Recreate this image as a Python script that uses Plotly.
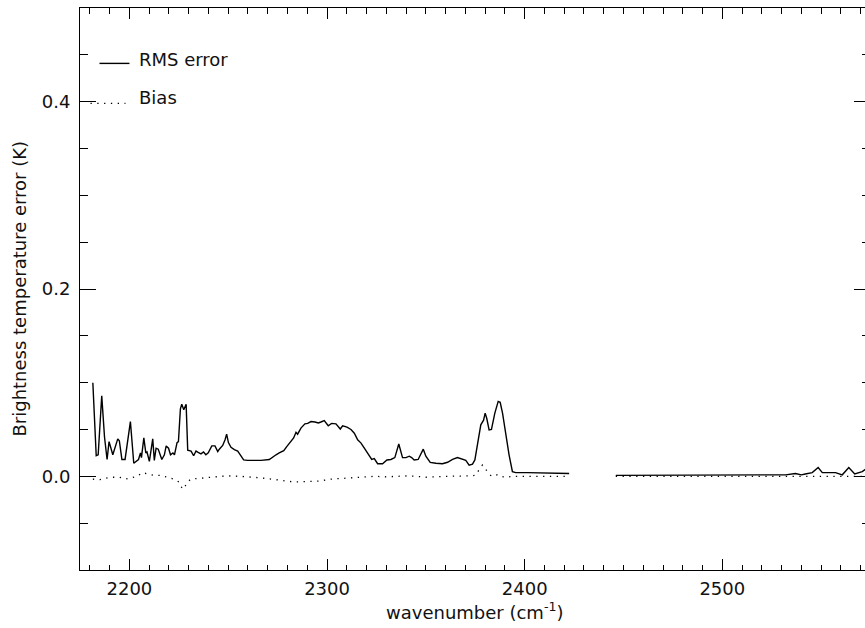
import plotly.graph_objects as go

# ---------------- data ----------------
# RMS error, first band segment (wavenumber cm^-1, K)
rms_wn_a = [2181.5, 2183.2, 2184.2, 2186.0, 2187.4, 2188.7, 2189.7, 2190.7, 2191.6, 2194.1,
            2194.9, 2196.2, 2197.8, 2200.5, 2202.2, 2204.6, 2205.6, 2206.1, 2207.3, 2208.3,
            2208.9, 2210.1, 2211.8, 2212.6, 2213.5, 2214.6, 2216.4, 2217.7, 2218.6, 2219.8,
            2220.8, 2222.0, 2222.8, 2224.1, 2224.8, 2225.8, 2226.5, 2227.5, 2228.7, 2229.5,
            2231.2, 2232.5, 2233.7, 2234.8, 2236.2, 2237.5, 2238.7, 2239.9, 2241.7, 2243.3,
            2244.7, 2245.5, 2247.2, 2248.4, 2249.2, 2250.1, 2251.4, 2253.1, 2254.8, 2256.1,
            2257.8, 2259.8, 2266.6, 2270.8, 2272.5, 2274.2, 2275.8, 2278.1, 2279.7, 2281.4,
            2283.1, 2284.3, 2285.1, 2286.8, 2288.8, 2290.2, 2291.9, 2293.9, 2295.6, 2296.9,
            2298.6, 2300.6, 2302.3, 2304.5, 2306.7, 2307.9, 2310.1, 2312.1, 2313.8, 2315.5,
            2317.2, 2319.2, 2321.4, 2322.6, 2323.9, 2325.6, 2328.1, 2330.3, 2332.3, 2334.3,
            2336.3, 2338.2, 2339.9, 2341.6, 2342.8, 2344.1, 2346.1, 2347.2, 2348.7, 2350.0,
            2352.2, 2355.1, 2358.4, 2361.0, 2363.5, 2366.0, 2367.7, 2370.2, 2371.9, 2373.6,
            2374.8, 2376.4, 2377.8, 2379.2, 2380.0, 2380.8, 2382.0, 2383.2, 2384.9, 2386.6,
            2387.6, 2388.8, 2390.4, 2392.1, 2393.8, 2395.5, 2401.4, 2411.5, 2422.5]
rms_val_a = [0.100, 0.022, 0.023, 0.086, 0.042, 0.018, 0.037, 0.028, 0.023, 0.040,
             0.038, 0.018, 0.018, 0.0585, 0.014, 0.018, 0.025, 0.020, 0.041, 0.025,
             0.026, 0.016, 0.040, 0.017, 0.030, 0.029, 0.018, 0.023, 0.0325, 0.030,
             0.023, 0.025, 0.023, 0.036, 0.037, 0.072, 0.077, 0.071, 0.077, 0.028,
             0.027, 0.022, 0.027, 0.0255, 0.024, 0.026, 0.023, 0.025, 0.0325, 0.0325,
             0.0265, 0.029, 0.033, 0.039, 0.045, 0.036, 0.031, 0.0285, 0.027, 0.023,
             0.0175, 0.017, 0.017, 0.018, 0.021, 0.023, 0.025, 0.0275, 0.032, 0.036,
             0.041, 0.047, 0.045, 0.0515, 0.056, 0.0565, 0.0585, 0.058, 0.057, 0.058,
             0.0595, 0.054, 0.0565, 0.056, 0.0505, 0.054, 0.0525, 0.050, 0.046, 0.039,
             0.0355, 0.029, 0.022, 0.018, 0.019, 0.0135, 0.0135, 0.0175, 0.018, 0.020,
             0.0345, 0.020, 0.020, 0.0215, 0.020, 0.0175, 0.018, 0.023, 0.029, 0.0215,
             0.0148, 0.014, 0.0135, 0.015, 0.018, 0.020, 0.019, 0.017, 0.012, 0.013,
             0.0175, 0.037, 0.055, 0.060, 0.0675, 0.062, 0.0495, 0.050, 0.0675, 0.080,
             0.079, 0.0675, 0.044, 0.023, 0.005, 0.004, 0.004, 0.0037, 0.003]

# RMS error, second band segment
rms_wn_b = [2446.1, 2460.0, 2472.2, 2485.0, 2500.0, 2516.8, 2525.0, 2532.0, 2537.0, 2540.0,
            2542.0, 2545.5, 2548.5, 2550.6, 2555.6, 2557.3, 2560.7, 2564.0, 2567.0, 2570.8,
            2572.5, 2575.0]
rms_val_b = [0.001, 0.001, 0.0015, 0.001, 0.0008, 0.001, 0.0012, 0.0016, 0.003, 0.0016,
             0.0025, 0.004, 0.0094, 0.004, 0.004, 0.004, 0.0016, 0.0094, 0.0025, 0.005,
             0.0077, 0.009]

# Bias, first segment
bias_wn_a = [2181.5, 2185.0, 2190.0, 2195.0, 2198.0, 2204.0, 2206.5, 2210.0, 2212.5, 2216.0,
             2219.0, 2222.5, 2225.0, 2226.5, 2227.5, 2229.0, 2231.0, 2236.0, 2242.0, 2249.0,
             2256.0, 2262.0, 2266.0, 2272.0, 2277.0, 2283.0, 2290.0, 2296.0, 2302.0, 2308.0,
             2316.0, 2324.0, 2330.0, 2336.0, 2341.0, 2345.0, 2350.0, 2360.0, 2368.0, 2372.0,
             2375.0, 2377.0, 2378.6, 2380.8, 2383.2, 2386.6, 2389.6, 2395.0, 2422.5]
bias_val_a = [-0.003, -0.0035, -0.001, -0.001, -0.003, 0.000, 0.004, 0.002, 0.001, 0.001,
              -0.001, -0.003, -0.006, -0.012, -0.0137, -0.007, -0.003, -0.002, -0.0015, 0.0005,
              0.000, -0.0005, -0.0015, -0.003, -0.004, -0.006, -0.0055, -0.005, -0.003, -0.002,
              -0.001, 0.000, -0.0005, 0.000, 0.0005, 0.000, -0.001, 0.000, 0.000, 0.0005,
              0.001, 0.007, 0.012, 0.006, 0.000, 0.002, -0.001, 0.000, 0.000]

# Bias, second segment
bias_wn_b = [2446.1, 2530.0, 2533.0, 2536.0, 2540.0, 2543.0, 2575.0]
bias_val_b = [0.000, 0.000, -0.0008, 0.000, -0.0008, 0.000, 0.000]

x_tickvals = [2200, 2300, 2400, 2500]
y_tickvals = [0.0, 0.2, 0.4]
y_ticktext = ["0.0", "0.2", "0.4"]
legend_labels = ["RMS error", "Bias"]
x_title = "wavenumber (cm<sup>-1</sup>)"
y_title = "Brightness temperature error (K)"

# ---------------- layout geometry ----------------
W, H = 865, 628
L, R, T, B = 79.5, 0, 7.5, 57.5
PW, PH = W - L - R, H - T - B
FONT = "DejaVu Sans"
INK = "#111111"
TXT = dict(family=FONT, size=18, color=INK)


def px(x):
    return (x - L) / PW


def py(y):
    return 1 - (y - T) / PH


rms_x = rms_wn_a + [None] + rms_wn_b
rms_y = rms_val_a + [None] + rms_val_b
bias_x = bias_wn_a + [None] + bias_wn_b
bias_y = bias_val_a + [None] + bias_val_b

fig = go.Figure()
fig.add_trace(go.Scatter(x=bias_x, y=bias_y, mode="lines", yaxis="y2",
                         line=dict(color="black", width=1.3, dash="1.3px,5.5px"),
                         connectgaps=False, hoverinfo="skip", showlegend=False))
fig.add_trace(go.Scatter(x=rms_x, y=rms_y, mode="lines",
                         line=dict(color="black", width=1.4),
                         connectgaps=False, hoverinfo="skip", showlegend=False))

axis_common = dict(showgrid=False, zeroline=False, ticks="inside", tickcolor="black",
                   tickwidth=1)

fig.update_layout(
    width=W, height=H,
    margin=dict(l=L, r=R, t=T, b=B, pad=0),
    paper_bgcolor="white", plot_bgcolor="white",
    font=TXT,
    showlegend=False,
    xaxis=dict(range=[2175, 2572.2], showline=True, linecolor="black", linewidth=1,
               mirror="ticks", ticklen=11, tickvals=x_tickvals,
               minor=dict(ticks="inside", ticklen=5.5, dtick=10, tick0=2200,
                          tickcolor="black", showgrid=False),
               tickfont=TXT, ticklabelstandoff=2,
               **axis_common),
    yaxis=dict(range=[-0.1, 0.5], showline=True, linecolor="black", linewidth=1,
               mirror=False, ticklen=16, tickvals=y_tickvals, ticktext=y_ticktext,
               minor=dict(ticks="inside", ticklen=8, dtick=0.05, tick0=0,
                          tickcolor="black", showgrid=False),
               tickfont=TXT, ticklabelstandoff=5,
               **axis_common),
    yaxis2=dict(range=[-0.1, 0.5], overlaying="y", side="right", showline=False,
                showticklabels=False, ticklen=11, tickvals=y_tickvals,
                minor=dict(ticks="inside", ticklen=3, dtick=0.05, tick0=0,
                           tickcolor="black", showgrid=False),
                **axis_common),
)

# legend drawn by hand (sample lines + labels)
fig.add_shape(type="line", xref="paper", yref="paper",
              x0=px(99), x1=px(129), y0=py(63), y1=py(63),
              line=dict(color="black", width=1.4))
fig.add_shape(type="line", xref="paper", yref="paper",
              x0=px(90), x1=px(125), y0=py(103), y1=py(103),
              line=dict(color="black", width=1.3, dash="1.3px,5.5px"))
fig.add_annotation(xref="paper", yref="paper", x=px(137), y=py(59.5),
                   text=legend_labels[0], showarrow=False, xanchor="left", yanchor="middle",
                   font=TXT)
fig.add_annotation(xref="paper", yref="paper", x=px(137), y=py(97),
                   text=legend_labels[1], showarrow=False, xanchor="left", yanchor="middle",
                   font=TXT)

# axis titles
fig.add_annotation(xref="paper", yref="paper", x=px(474.5), y=py(612),
                   text=x_title, showarrow=False, xanchor="center", yanchor="middle",
                   font=TXT)
fig.add_annotation(xref="paper", yref="paper", x=px(18), y=py(289),
                   text=y_title, showarrow=False, xanchor="center", yanchor="middle",
                   textangle=-90, font=TXT)

fig.write_html("out.html")
